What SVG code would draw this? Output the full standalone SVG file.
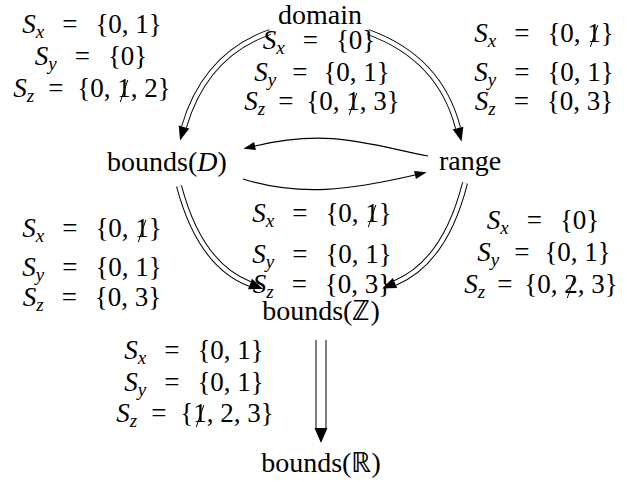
<svg xmlns="http://www.w3.org/2000/svg" width="627" height="482" viewBox="0 0 627 482">
<style>
.n{font-size:28px;text-anchor:middle}
.mt{font-size:27px;text-anchor:middle;font-style:italic}
.i{font-style:italic}
.r{font-style:normal}
.s{font-style:italic;font-size:19px}
.dbl{fill:none;stroke:#000;stroke-width:6}
.dblw{fill:none;stroke:#fff;stroke-width:4}
.vb{fill:none;stroke:#000;stroke-width:11}
.vw{fill:none;stroke:#fff;stroke-width:9}
.sg{fill:none;stroke:#000;stroke-width:1.2}
.sl{stroke:#000;stroke-width:1}
</style>
<defs>
<marker id="hd" markerUnits="userSpaceOnUse" markerWidth="16" markerHeight="12" refX="0" refY="6" orient="auto" overflow="visible"><path d="M0,0.5 L14,6 L0,11.5 z" fill="#000"/></marker>
<marker id="hv" markerUnits="userSpaceOnUse" markerWidth="16" markerHeight="14" refX="0" refY="7" orient="auto" overflow="visible"><path d="M0,0.5 L15,7 L0,13.5 z" fill="#000"/></marker>
<marker id="hs" markerUnits="userSpaceOnUse" markerWidth="14" markerHeight="8" refX="0" refY="4" orient="auto" overflow="visible"><path d="M0,0 L12,4 L0,8 z" fill="#000"/></marker>
</defs>
<g id="connectors">
<path class="dbl" d="M270,32 Q205,55 184,127" marker-end="url(#hd)"/>
<path class="dblw" d="M270,32 Q205,55 184,127"/>
<path class="dbl" d="M368,32 Q440,58 458,128" marker-end="url(#hd)"/>
<path class="dblw" d="M368,32 Q440,58 458,128"/>
<path class="sg" d="M428,156 C370,145 330,128 255,146" marker-end="url(#hs)"/>
<path class="sg" d="M243,179 C300,197 350,190 415,175" marker-end="url(#hs)"/>
<path class="dbl" d="M179,186 Q200,265 250,284" marker-end="url(#hd)"/>
<path class="dblw" d="M179,186 Q200,265 250,284"/>
<path class="dbl" d="M465,183 Q445,262 395,283" marker-end="url(#hd)"/>
<path class="dblw" d="M465,183 Q445,262 395,283"/>
<path class="vb" d="M321,340 L321,428" marker-end="url(#hv)"/>
<path class="vw" d="M321,340 L321,428"/>
</g>
<g id="lbl-tl">
<text class="mt" font-family="Liberation Serif" x="92" y="33">S<tspan class="s" dy="5">x</tspan><tspan class="r" dy="-5" dx="18">=</tspan><tspan class="r" dx="18">{0, 1}</tspan></text>
<text class="mt" font-family="Liberation Serif" x="91" y="65">S<tspan class="s" dy="5">y</tspan><tspan class="r" dy="-5" dx="18">=</tspan><tspan class="r" dx="18">{0}</tspan></text>
<text class="mt" font-family="Liberation Serif" x="92" y="97">S<tspan class="s" dy="5">z</tspan><tspan class="r" dy="-5" dx="14">=</tspan><tspan class="r" dx="14">{0, 1, 2}</tspan></text>
<line class="sl" x1="120.3" y1="102" x2="127.8" y2="80"/>
</g>
<g id="lbl-tm">
<text class="mt" font-family="Liberation Serif" x="319" y="49">S<tspan class="s" dy="5">x</tspan><tspan class="r" dy="-5" dx="18">=</tspan><tspan class="r" dx="18">{0}</tspan></text>
<text class="mt" font-family="Liberation Serif" x="322" y="81">S<tspan class="s" dy="5">y</tspan><tspan class="r" dy="-5" dx="16">=</tspan><tspan class="r" dx="16">{0, 1}</tspan></text>
<text class="mt" font-family="Liberation Serif" x="322" y="110">S<tspan class="s" dy="5">z</tspan><tspan class="r" dy="-5" dx="13">=</tspan><tspan class="r" dx="13">{0, 1, 3}</tspan></text>
<line class="sl" x1="349.3" y1="115" x2="356.8" y2="93"/>
</g>
<g id="lbl-tr">
<text class="mt" font-family="Liberation Serif" x="544" y="42">S<tspan class="s" dy="5">x</tspan><tspan class="r" dy="-5" dx="18">=</tspan><tspan class="r" dx="18">{0, 1}</tspan></text>
<line class="sl" x1="590.3" y1="47" x2="597.8" y2="25"/>
<text class="mt" font-family="Liberation Serif" x="544" y="81">S<tspan class="s" dy="5">y</tspan><tspan class="r" dy="-5" dx="18">=</tspan><tspan class="r" dx="18">{0, 1}</tspan></text>
<text class="mt" font-family="Liberation Serif" x="544" y="110">S<tspan class="s" dy="5">z</tspan><tspan class="r" dy="-5" dx="18">=</tspan><tspan class="r" dx="18">{0, 3}</tspan></text>
</g>
<g id="lbl-ml">
<text class="mt" font-family="Liberation Serif" x="92" y="237">S<tspan class="s" dy="5">x</tspan><tspan class="r" dy="-5" dx="18">=</tspan><tspan class="r" dx="18">{0, 1}</tspan></text>
<line class="sl" x1="138.3" y1="242" x2="145.8" y2="220"/>
<text class="mt" font-family="Liberation Serif" x="92" y="276">S<tspan class="s" dy="5">y</tspan><tspan class="r" dy="-5" dx="18">=</tspan><tspan class="r" dx="18">{0, 1}</tspan></text>
<text class="mt" font-family="Liberation Serif" x="92" y="306">S<tspan class="s" dy="5">z</tspan><tspan class="r" dy="-5" dx="18">=</tspan><tspan class="r" dx="18">{0, 3}</tspan></text>
</g>
<g id="lbl-mc">
<text class="mt" font-family="Liberation Serif" x="322" y="222">S<tspan class="s" dy="5">x</tspan><tspan class="r" dy="-5" dx="18">=</tspan><tspan class="r" dx="18">{0, 1}</tspan></text>
<line class="sl" x1="368.3" y1="227" x2="375.8" y2="205"/>
<text class="mt" font-family="Liberation Serif" x="322" y="263">S<tspan class="s" dy="5">y</tspan><tspan class="r" dy="-5" dx="18">=</tspan><tspan class="r" dx="18">{0, 1}</tspan></text>
<text class="mt" font-family="Liberation Serif" x="322" y="293">S<tspan class="s" dy="5">z</tspan><tspan class="r" dy="-5" dx="18">=</tspan><tspan class="r" dx="18">{0, 3}</tspan></text>
</g>
<g id="lbl-mr">
<text class="mt" font-family="Liberation Serif" x="543" y="229">S<tspan class="s" dy="5">x</tspan><tspan class="r" dy="-5" dx="18">=</tspan><tspan class="r" dx="18">{0}</tspan></text>
<text class="mt" font-family="Liberation Serif" x="544" y="261">S<tspan class="s" dy="5">y</tspan><tspan class="r" dy="-5" dx="15">=</tspan><tspan class="r" dx="15">{0, 1}</tspan></text>
<text class="mt" font-family="Liberation Serif" x="541" y="293">S<tspan class="s" dy="5">z</tspan><tspan class="r" dy="-5" dx="12">=</tspan><tspan class="r" dx="12">{0, 2, 3}</tspan></text>
<line class="sl" x1="567.3" y1="298" x2="574.8" y2="276"/>
</g>
<g id="lbl-b">
<text class="mt" font-family="Liberation Serif" x="194" y="359">S<tspan class="s" dy="5">x</tspan><tspan class="r" dy="-5" dx="18">=</tspan><tspan class="r" dx="18">{0, 1}</tspan></text>
<text class="mt" font-family="Liberation Serif" x="194" y="391">S<tspan class="s" dy="5">y</tspan><tspan class="r" dy="-5" dx="18">=</tspan><tspan class="r" dx="18">{0, 1}</tspan></text>
<text class="mt" font-family="Liberation Serif" x="195" y="422">S<tspan class="s" dy="5">z</tspan><tspan class="r" dy="-5" dx="14">=</tspan><tspan class="r" dx="14">{1, 2, 3}</tspan></text>
<line class="sl" x1="196.3" y1="427" x2="203.8" y2="405"/>
</g>
<g id="domain"><text class="n" font-family="Liberation Serif" x="320" y="24" font-size="27">domain</text></g>
<g id="boundsD"><text class="n" font-family="Liberation Serif" x="167" y="171">bounds(<tspan class="i">D</tspan>)</text></g>
<g id="range"><text class="n" font-family="Liberation Serif" x="470" y="170">range</text></g>
<g id="boundsZ"><text class="n" font-family="Liberation Serif" x="321" y="320">bounds(ℤ)</text></g>
<g id="boundsR"><text class="n" font-family="Liberation Serif" x="321" y="472">bounds(ℝ)</text></g>
</svg>
